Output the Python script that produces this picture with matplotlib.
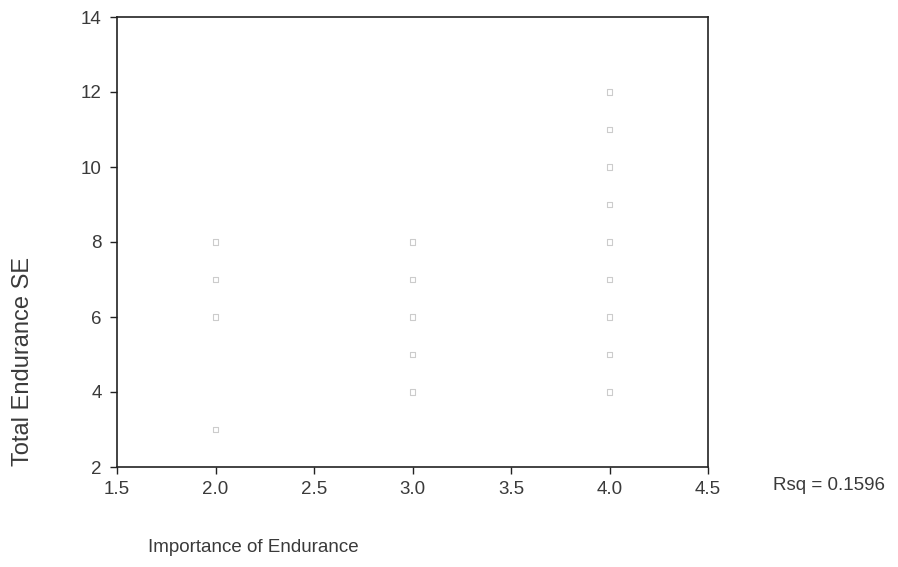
import matplotlib
matplotlib.use("Agg")
import matplotlib.pyplot as plt

plt.rcParams['font.family'] = ['Liberation Sans', 'DejaVu Sans']

importance = [2, 2, 2, 2, 3, 3, 3, 3, 3, 4, 4, 4, 4, 4, 4, 4, 4, 4]
endurance = [3, 6, 7, 8, 4, 5, 6, 7, 8, 4, 5, 6, 7, 8, 9, 10, 11, 12]
xticks = [1.5, 2.0, 2.5, 3.0, 3.5, 4.0, 4.5]
yticks = [2, 4, 6, 8, 10, 12, 14]
rsq_text = "Rsq = 0.1596"

fig = plt.figure(figsize=(8.98, 5.67), dpi=100)
ax = fig.add_axes([117/898, 1 - 467/567, (708-117)/898, (467-17)/567])
ax.scatter(importance, endurance, marker='s', s=14, facecolors='none',
           edgecolors='#cccccc', linewidths=0.8)
ax.set_xlim(1.5, 4.5)
ax.set_ylim(2, 14)
ax.set_xticks(xticks)
ax.set_xticklabels([f"{v:.1f}" for v in xticks])
ax.set_yticks(yticks)
ax.tick_params(direction='out', length=5, width=1, labelsize=13.5, colors='#222222',
               labelcolor='#3a3a3a', top=False, right=False)
ax.tick_params(axis='x', pad=5)
ax.tick_params(axis='y', pad=6)
for s in ax.spines.values():
    s.set_linewidth(1.2)
    s.set_color('#222222')
fig.text(23/898, 1 - 361/567, "Total Endurance SE", rotation=90, ha='center', va='center',
         fontsize=17, color='#3a3a3a')
fig.text(148/898, 1 - 548/567, "Importance of Endurance", ha='left', va='center',
         fontsize=13.5, color='#3a3a3a')
fig.text(829/898, 1 - 485/567, rsq_text, ha='center', va='center', fontsize=13.5,
         color='#3a3a3a')
fig.savefig("out.png", dpi=100)
